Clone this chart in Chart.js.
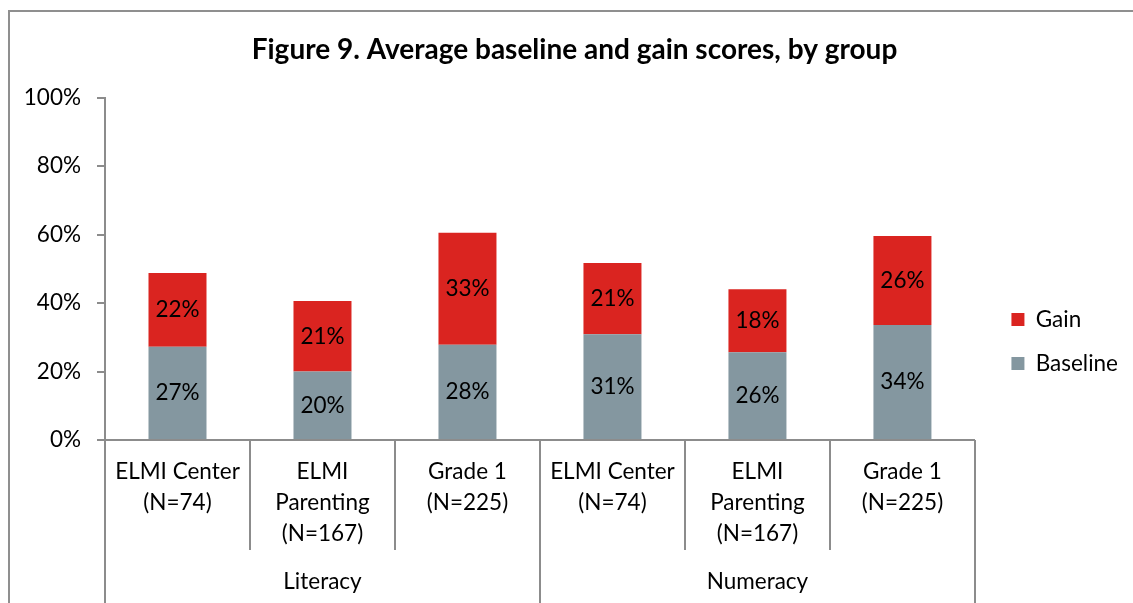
<!DOCTYPE html>
<html>
<head>
<meta charset="utf-8">
<script src="https://cdn.jsdelivr.net/npm/chart.js@4.4.0/dist/chart.umd.min.js"></script>
<style>
    body { margin: 0; background: #fff; overflow: hidden; }
    #wrap { position: relative; width: 1133px; height: 603px; }
    #frame { position: absolute; left: 8px; top: 10px; width: 1140px; height: 610px;
             border-left: 2px solid #8f8f8f; border-top: 2px solid #8f8f8f; }
    #scoreChart { position: absolute; left: 0; top: 0; }
</style>
</head>
<body>
<div id="wrap">
    <div id="frame"></div>
    <canvas id="scoreChart" width="1133" height="603"></canvas>
</div>
<script>
// values (percent)
const subgroups = [
    ["ELMI Center", "(N=74)"],
    ["ELMI", "Parenting", "(N=167)"],
    ["Grade 1", "(N=225)"],
    ["ELMI Center", "(N=74)"],
    ["ELMI", "Parenting", "(N=167)"],
    ["Grade 1", "(N=225)"]
];
const groups = ["Literacy", "Numeracy"];
const groupSizes = [3, 3];
const baseline = [27.2, 20.0, 27.8, 30.9, 25.6, 33.6];
const gain = [21.6, 20.6, 32.7, 20.8, 18.4, 26.0];
const yTicks = [0, 20, 40, 60, 80, 100];

const FONT = "Lato";
const TXT = 22.5;
const axisGrey = "#8c8c8c";

// percent labels in the middle of each segment
const barLabels = {
    id: "barLabels",
    afterDatasetsDraw(chart) {
        const ctx = chart.ctx;
        ctx.save();
        ctx.font = TXT + "px " + FONT;
        ctx.fillStyle = "#000";
        ctx.textAlign = "center";
        ctx.textBaseline = "middle";
        chart.data.datasets.forEach((ds, di) => {
            const meta = chart.getDatasetMeta(di);
            meta.data.forEach((bar, i) => {
                ctx.fillText(Math.round(ds.data[i]) + "%", bar.x, (bar.y + bar.base) / 2);
            });
        });
        ctx.restore();
    }
};

// two level category axis under the plot
const groupAxis = {
    id: "groupAxis",
    afterDraw(chart) {
        const ctx = chart.ctx;
        const xs = chart.scales.x;
        const top = chart.chartArea.bottom;
        const step = xs.getPixelForValue(1) - xs.getPixelForValue(0);
        ctx.save();
        ctx.strokeStyle = axisGrey;
        ctx.lineWidth = 2;
        ctx.font = TXT + "px " + FONT;
        ctx.fillStyle = "#000";
        ctx.textAlign = "center";
        ctx.textBaseline = "middle";

        subgroups.forEach((lines, i) => {
            const cx = xs.getPixelForValue(i);
            lines.forEach((t, k) => ctx.fillText(t, cx, top + 32 + k * 31));
        });

        // separators
        let idx = 0;
        const groupEdges = [0];
        groupSizes.forEach(n => { idx += n; groupEdges.push(idx); });
        for (let i = 0; i <= subgroups.length; i++) {
            const x = Math.round(xs.getPixelForValue(0) - step / 2 + i * step);
            const long = groupEdges.includes(i);
            ctx.beginPath();
            ctx.moveTo(x, top);
            ctx.lineTo(x, long ? chart.height : top + 110);
            ctx.stroke();
        }

        let start = 0;
        groups.forEach((g, gi) => {
            const n = groupSizes[gi];
            const cx = xs.getPixelForValue(0) + (start + (n - 1) / 2) * step;
            ctx.fillText(g, cx, top + 142);
            start += n;
        });
        ctx.restore();
    }
};

// push legend down to sit beside the bars
const legendShift = {
    id: "legendShift",
    afterLayout(chart) {
        chart.legend.top += 40;
        chart.legend.bottom += 40;
    }
};

new Chart("scoreChart", {
    type: "bar",
    data: {
        labels: subgroups.map(l => l.join(" ")),
        datasets: [{
            label: "Baseline",
            data: baseline,
            backgroundColor: "#8497a0",
            barPercentage: 0.4,
            categoryPercentage: 1
        }, {
            label: "Gain",
            data: gain,
            backgroundColor: "#da2420",
            barPercentage: 0.4,
            categoryPercentage: 1
        }]
    },
    options: {
        responsive: false,
        animation: false,
        layout: { padding: { left: 21, right: 5, top: 0, bottom: 0 } },
        scales: {
            x: {
                stacked: true,
                ticks: { display: false },
                grid: { display: false },
                border: { display: true, color: axisGrey, width: 2 },
                afterFit: s => { s.height = 163; }
            },
            y: {
                stacked: true,
                min: 0,
                max: 100,
                afterBuildTicks: s => { s.ticks = yTicks.map(v => ({ value: v })); },
                ticks: {
                    color: "#000",
                    font: { family: FONT, size: TXT },
                    padding: 16,
                    callback: v => v + "%"
                },
                grid: { drawOnChartArea: false, drawTicks: true, tickLength: 8, color: axisGrey, lineWidth: 2 },
                border: { display: true, color: axisGrey, width: 2 },
                afterFit: s => { s.width = 84; }
            },
            spacer: {
                position: "right",
                display: true,
                ticks: { display: false },
                grid: { display: false },
                border: { display: false },
                afterFit: s => { s.width = 15; }
            }
        },
        plugins: {
            title: {
                display: true,
                text: "Figure 9. Average baseline and gain scores, by group",
                color: "#000",
                font: { family: FONT, size: 28, weight: "bold" },
                padding: { top: 33, bottom: 31 }
            },
            legend: {
                position: "right",
                reverse: true,
                align: "center",
                labels: {
                    color: "#000",
                    font: { family: FONT, size: TXT },
                    boxWidth: 13,
                    boxHeight: 13,
                    padding: 21.5
                }
            },
            tooltip: { enabled: false }
        }
    },
    plugins: [barLabels, groupAxis, legendShift]
});
</script>
</body>
</html>
